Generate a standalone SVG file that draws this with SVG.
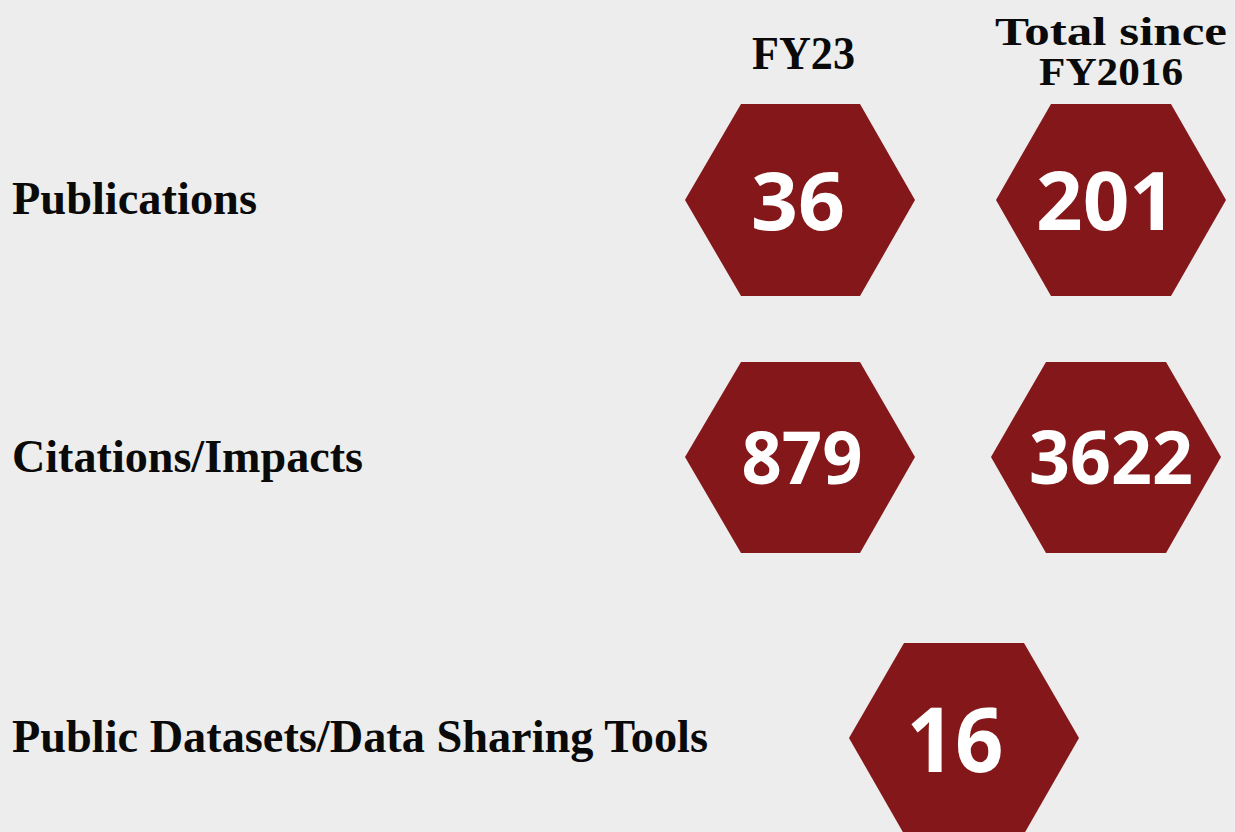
<svg xmlns="http://www.w3.org/2000/svg" width="1235" height="832" viewBox="0 0 1235 832">
<style>
.bg{fill:#EDEDED}
.hex{fill:#841719}
.lbl{font-family:"Liberation Serif","DejaVu Serif",serif;font-weight:bold;fill:#0a0a0a}
.num{font-family:"Open Sans","DejaVu Sans",sans-serif;font-weight:bold;fill:#ffffff;text-anchor:middle}
</style>
<rect class="bg" x="0" y="0" width="1235" height="832"/>
<g id="headers">
<text class="lbl" x="752" y="69" font-size="46" textLength="103" lengthAdjust="spacingAndGlyphs">FY23</text>
<text class="lbl" x="995" y="45" font-size="40" textLength="232" lengthAdjust="spacingAndGlyphs">Total since</text>
<text class="lbl" x="1039" y="85" font-size="40" textLength="144" lengthAdjust="spacingAndGlyphs">FY2016</text>
</g>
<g id="row-labels">
<text class="lbl" x="12" y="214" font-size="46" textLength="245" lengthAdjust="spacingAndGlyphs">Publications</text>
<text class="lbl" x="12" y="472" font-size="46" textLength="351" lengthAdjust="spacingAndGlyphs">Citations/Impacts</text>
<text class="lbl" x="12" y="752" font-size="46" textLength="696" lengthAdjust="spacingAndGlyphs">Public Datasets/Data Sharing Tools</text>
</g>
<g id="hex-pub-fy23">
<polygon class="hex" points="685,200 741,104 860,104 915,200 860,296 741,296"/>
<text class="num" x="798" y="230" font-size="81" textLength="94" lengthAdjust="spacingAndGlyphs">36</text>
</g>
<g id="hex-pub-total">
<polygon class="hex" points="996,200 1051,104 1171,104 1226,200 1171,296 1051,296"/>
<text class="num" x="1106" y="230" font-size="81" textLength="140" lengthAdjust="spacingAndGlyphs">201</text>
</g>
<g id="hex-cit-fy23">
<polygon class="hex" points="685,457 741,362 860,362 915,457 860,553 741,553"/>
<text class="num" x="802" y="484" font-size="73" textLength="121" lengthAdjust="spacingAndGlyphs">879</text>
</g>
<g id="hex-cit-total">
<polygon class="hex" points="991,457 1046,362 1166,362 1221,457 1166,553 1046,553"/>
<text class="num" x="1111" y="484" font-size="73" textLength="164" lengthAdjust="spacingAndGlyphs">3622</text>
</g>
<g id="hex-datasets">
<polygon class="hex" points="849,738 904,643 1024,643 1079,738 1024,834 904,834"/>
<text class="num" x="955" y="772" font-size="90" textLength="97" lengthAdjust="spacingAndGlyphs">16</text>
</g>
<g id="connectors"/>
</svg>
